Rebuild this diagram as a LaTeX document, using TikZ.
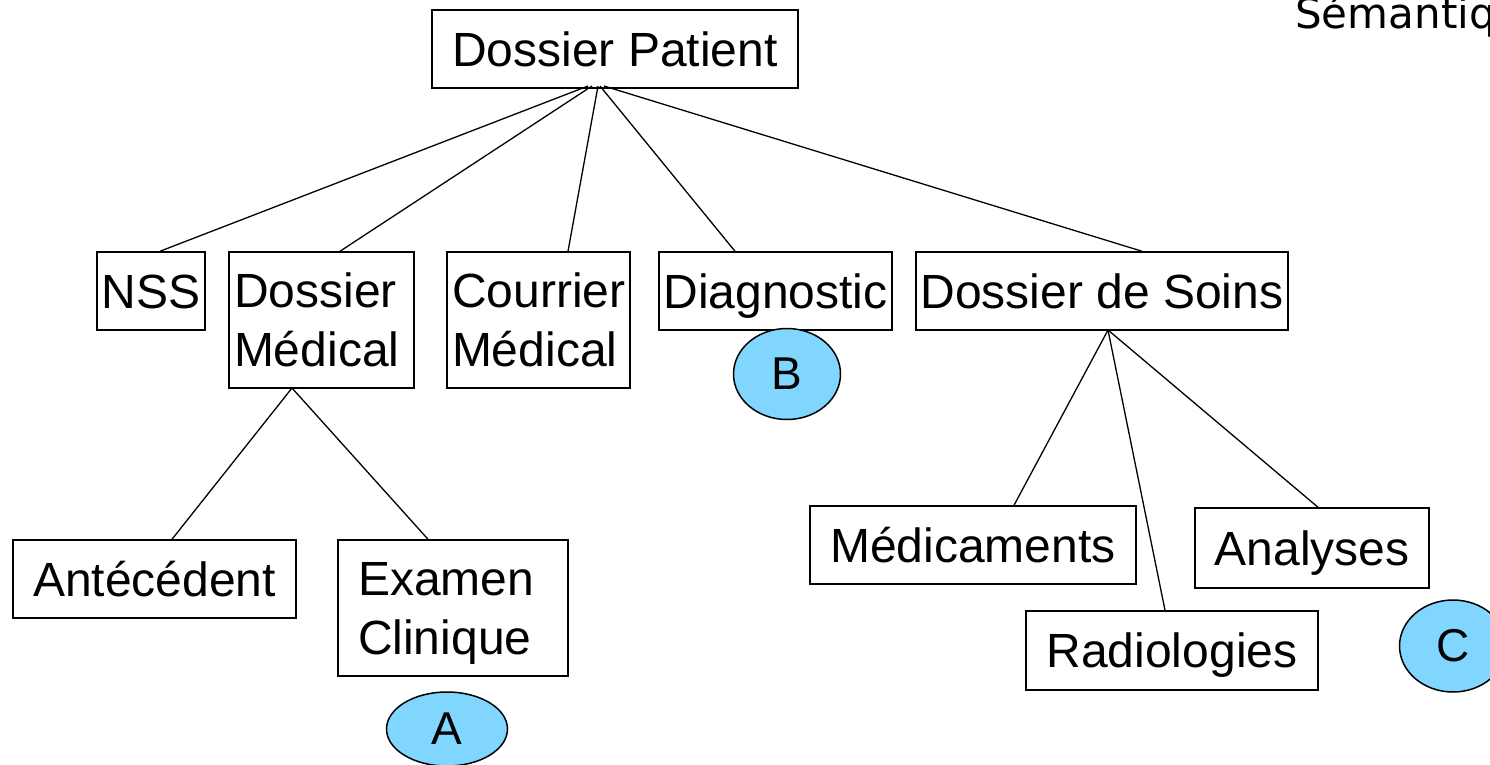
\documentclass[tikz,border=0pt]{standalone}
\usepackage{fontspec}
\setmainfont{Liberation Sans}
\newfontfamily\dejavu{DejaVu Sans}
\usetikzlibrary{shapes.geometric}
\definecolor{lblue}{RGB}{128,214,255}
\tikzset{
  box/.style={draw, line width=1.5pt, inner sep=0pt, align=left,
    font=\fontsize{48}{59}\selectfont, text height=34pt, text depth=0pt},
  twoline/.style={box, text depth=59pt},
  tag/.style={ellipse, draw, line width=1.5pt, fill=lblue, inner sep=0pt,
    font=\fontsize{46}{50}\selectfont},
  link/.style={line width=1.3pt}
}
\begin{document}
\begin{tikzpicture}[x=1pt,y=-1pt]
\useasboundingbox (0,0) rectangle (1490,764);
\clip (0,0) rectangle (1490,764);
\fill[white] (0,0) rectangle (1490,764);
\node[anchor=base west, font=\dejavu\fontsize{42}{50}\selectfont, inner sep=0pt] (sem) at (1295,28) {Sémantique};

\node[box, minimum width=366pt, minimum height=78pt] (dp) at (615,49) {Dossier Patient};
\node[box, minimum width=108pt, minimum height=78pt] (nss) at (151,291) {NSS};
\node[twoline, minimum width=185pt, minimum height=136pt, text width=175pt] (dm) at (321.5,320) {Dossier\\Médical};
\node[twoline, minimum width=183pt, minimum height=136pt, text width=173pt] (cm) at (538.5,320) {Courrier\\Médical};
\node[box, minimum width=233pt, minimum height=78pt] (dg) at (775.5,291) {Diagnostic};
\node[box, minimum width=372pt, minimum height=78pt] (ds) at (1102,291) {Dossier de Soins};
\node[box, minimum width=283pt, minimum height=78pt] (an) at (154.5,579) {Antécédent};
\node[twoline, minimum width=230pt, minimum height=136pt, text width=190pt] (ex) at (453,608) {Examen\\Clinique};
\node[box, minimum width=326pt, minimum height=78pt] (me) at (973,545) {Médicaments};
\node[box, minimum width=234pt, minimum height=80pt] (ana) at (1312,548) {Analyses};
\node[box, minimum width=292pt, minimum height=79pt] (ra) at (1172,650.5) {Radiologies};

\node[tag, minimum width=121pt, minimum height=74pt] (a) at (447,729) {A};
\node[tag, minimum width=107pt, minimum height=91pt] (b) at (787,374) {B};
\node[tag, minimum width=107pt, minimum height=92pt] (c) at (1453,646) {C};

\coordinate (r1) at (588,86);
\coordinate (r2) at (592,86);
\coordinate (r3) at (598,86);
\coordinate (r4) at (600,86);
\coordinate (r5) at (604,86);
\draw[link] (r1) -- (nss.north -| 160,0);
\draw[link] (r2) -- (dm.north -| 340,0);
\draw[link] (r3) -- (cm.north -| 568,0);
\draw[link] (r4) -- (dg.north -| 735,0);
\draw[link] (r5) -- (ds.north -| 1142,0);

\coordinate (dmb) at (292,388);
\draw[link] (dmb) -- (an.north -| 172,0);
\draw[link] (dmb) -- (ex.north -| 428,0);

\coordinate (dsb) at (1108,330);
\draw[link] (dsb) -- (me.north -| 1014,0);
\draw[link] (dsb) -- (ra.north -| 1165,0);
\draw[link] (dsb) -- (ana.north -| 1318,0);
\end{tikzpicture}
\end{document}
